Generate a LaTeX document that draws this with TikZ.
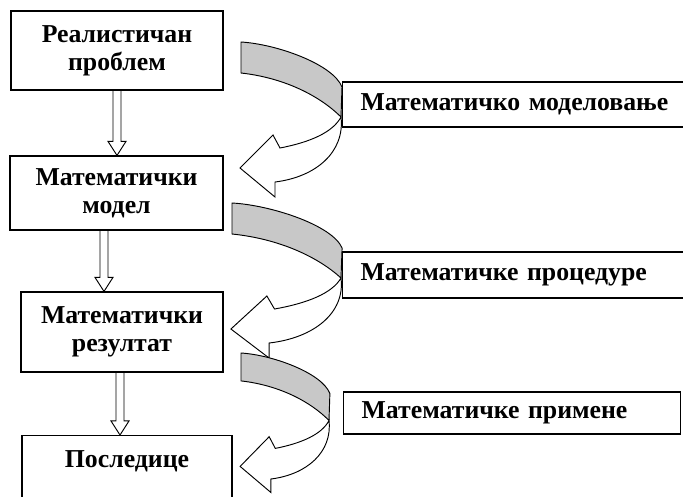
\documentclass[tikz,border=0pt]{standalone}
\usepackage{fontspec}
\setmainfont{Liberation Serif}
\usetikzlibrary{calc, positioning}

\definecolor{bandgray}{RGB}{200,200,200}

\tikzset{
  stage/.style = {draw, line width=1pt, align=center, inner sep=0pt,
                  font=\bfseries\fontsize{22}{24}\selectfont},
  phase/.style = {draw, line width=1pt, anchor=west, align=left,
                  inner ysep=0pt, inner xsep=0.54cm,
                  font=\bfseries\fontsize{22}{24}\selectfont},
  hollow/.style = {line width=0.8pt, to path={
      let \p1=(\tikztostart), \p2=(\tikztotarget) in
      (\x1-3.4pt,\y1) -- (\x1-3.4pt,\y2+12pt) -- (\x1-7.7pt,\y2+12pt)
      -- (\x1,\y2) -- (\x1+7.7pt,\y2+12pt) -- (\x1+3.4pt,\y2+12pt)
      -- (\x1+3.4pt,\y1)}}
}

% curved arrow: left, top, xscale, yscale
\newcommand{\curvedarrow}[4]{%
  \begin{scope}[shift={(#1,#2)}, xscale=#3, yscale=#4, line width=0.8pt]
    \filldraw [fill=bandgray] (0,0) .. controls (35,2) and (92,22) .. (101,45)
      -- (100,75) .. controls (80,55) and (45,36) .. (0,31) -- cycle;
    \filldraw [fill=white] (100,75) .. controls (104,110) and (75,135) .. (34,140)
      -- (34,155) -- (-1,126) -- (32,93) -- (39,106)
      .. controls (70,100) and (92,90) .. (100,75) -- cycle;
  \end{scope}}

\begin{document}
\begin{tikzpicture} [x=0.03cm, y=-0.03cm]
  \clip (0,0) rectangle (683,496);

  % curved arrows
  \curvedarrow{241}{42}{1}{1}
  \curvedarrow{232}{203}{1.09}{1}
  \curvedarrow{241}{353}{0.88}{0.9}

  % stages
  \node (prob) [stage, minimum width=6.36cm, minimum height=2.37cm] at (117,50.5) {Реалистичан\\проблем};
  \node (model) [stage, minimum width=6.39cm, minimum height=2.22cm] at (116.5,193) {Математички\\модел};
  \node (result) [stage, minimum width=6.06cm, minimum height=2.4cm] at (122,332) {Математички\\резултат};
  \node (conseq) [stage, anchor=north, minimum width=6.3cm, text height=0.96cm, text depth=1.2cm] at (127,435) {Последице};

  % phases
  \node (mmod) [phase, minimum height=1.35cm, text width=9.36cm] at (342,104.5) {Математичко моделовање};
  \node (mproc) [phase, minimum height=1.38cm, text width=9.36cm] at (342,275) {Математичке процедуре};
  \node (mappl) [phase, minimum height=1.26cm, text width=9.03cm] at (343,413) {Математичке примене};

  % hollow arrows
  \draw [hollow] (prob.south) to (model.north);
  \draw [hollow] ([xshift=-0.375cm]model.south) to (result.north);
  \draw [hollow] ([xshift=-0.06cm]result.south) to (conseq.north);
\end{tikzpicture}
\end{document}
